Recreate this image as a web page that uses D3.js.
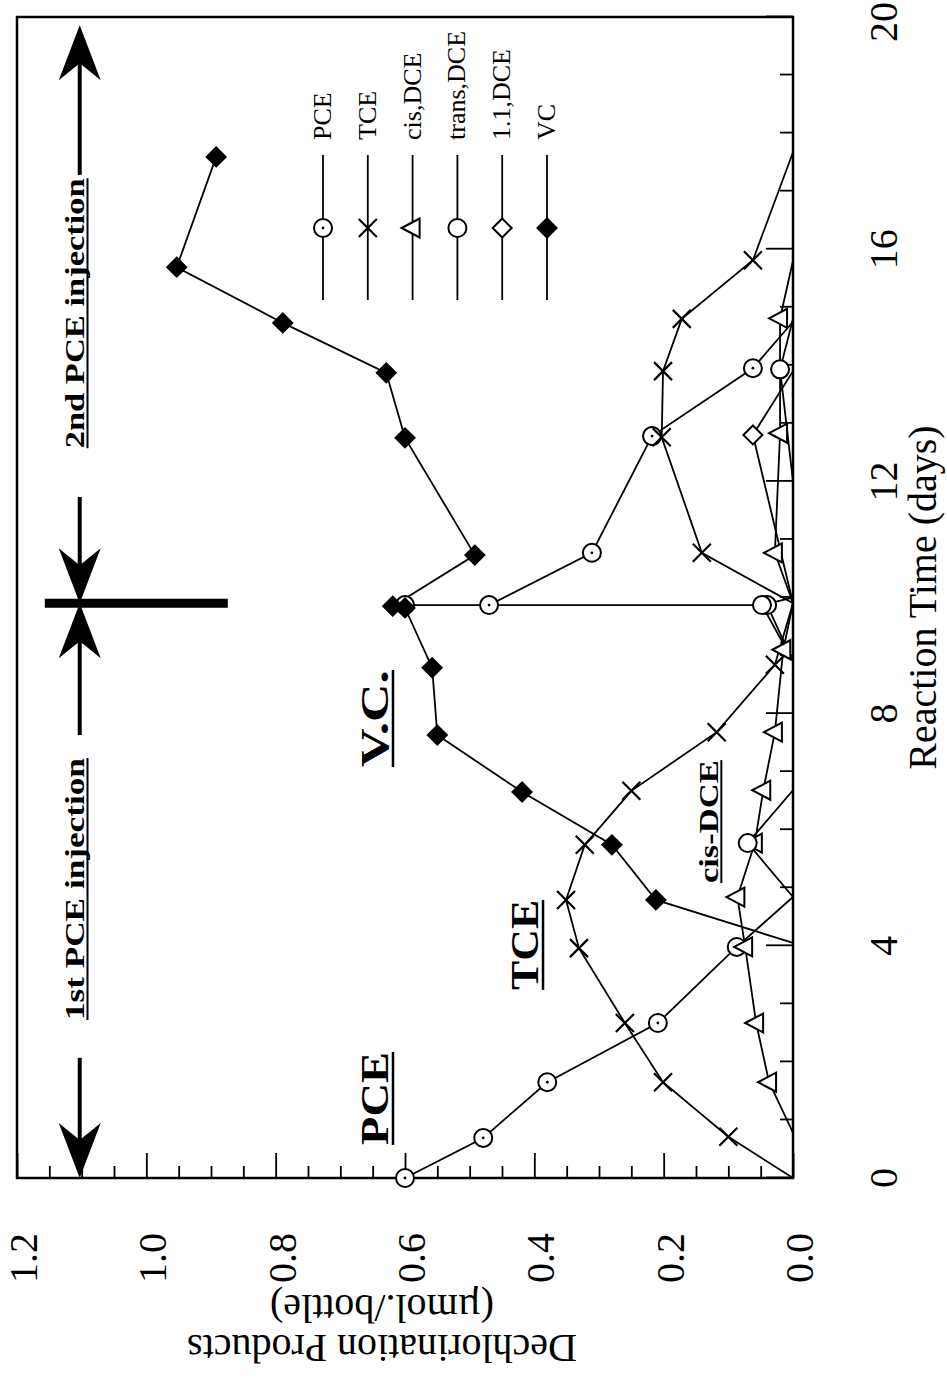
<!DOCTYPE html>
<html>
<head>
<meta charset="utf-8">
<script src="https://cdn.jsdelivr.net/npm/d3@7"></script>
<style>
  body { margin: 0; background: #fff; }
  svg { display: block; }
  text { font-family: "Liberation Serif", "Times New Roman", serif; fill: #000; }
</style>
</head>
<body>
<svg id="chart"></svg>
<script>
// [day, umol/bottle]
var pceData = [[0, 0.6], [0.69, 0.479], [1.65, 0.38], [2.67, 0.209], [3.98, 0.087], [4.84, 0],
  [8.9, 0], [9.87, 0.04], [9.87, 0.6], [9.87, 0.47], [10.77, 0.311], [12.78, 0.218], [13.95, 0.062], [14.75, 0]]
var tceData = [[0, 0], [0.71, 0.1], [1.65, 0.201], [2.67, 0.26], [3.96, 0.331], [4.79, 0.351], [5.74, 0.322],
  [6.67, 0.25], [7.68, 0.118], [8.84, 0.028], [9.9, 0], [10.77, 0.141], [12.76, 0.203], [13.9, 0.201],
  [14.8, 0.172], [15.81, 0.062], [17.67, 0]]
var cisData = [[0, 0], [0.78, 0], [1.65, 0.037], [2.67, 0.057], [3.98, 0.074], [4.84, 0.086], [5.77, 0.059],
  [6.68, 0.046], [7.68, 0.028], [9.1, 0.015], [9.9, 0], [10.77, 0.028], [12.83, 0.02], [14.81, 0.02], [15.8, 0]]
var transData = [[4.84, 0], [5.77, 0.07], [6.68, 0], [8.9, 0], [9.87, 0.048], [10.0, 0], [12.0, 0],
  [13.93, 0.02], [14.8, 0]]
var dce11Data = [[9.9, 0], [12.8, 0.062], [13.9, 0]]
var vcData = [[4.05, 0], [4.79, 0.212], [5.74, 0.28], [6.65, 0.419], [7.63, 0.55], [8.79, 0.558], [9.82, 0.6],
  [9.85, 0.619], [10.73, 0.492], [12.75, 0.6], [13.87, 0.629], [14.73, 0.789], [15.69, 0.953], [17.59, 0.892]]

var seriesNames = ['PCE', 'TCE', 'cis,DCE', 'trans,DCE', '1.1,DCE', 'VC']
var seriesSymbols = ['dotCircle', 'cross', 'triangle', 'circle', 'diamond', 'filledDiamond']
var seriesData = [pceData, tceData, cisData, transData, dce11Data, vcData]

var timeTicks = [0, 4, 8, 12, 16, 20]
var concTicks = [0, 0.2, 0.4, 0.6, 0.8, 1.0, 1.2]

var series = seriesNames.map((name, i) => ({name, symbol: seriesSymbols[i], data: seriesData[i]}))

var width = 1161, height = 776
var svg = d3.select('#chart').attr('width', 947).attr('height', 1384)
// whole figure is printed turned a quarter turn counter-clockwise
var g = svg.append('g').attr('transform', 'translate(17,1178) rotate(-90)')

var x = d3.scaleLinear().domain([0, 20]).range([0, width])
var y = d3.scaleLinear().domain([0, 1.2]).range([height, 0])

// inward ticks
function tickAxis(axis, vals, size){
  var a = g.append('g').call(axis.tickValues(vals).tickSize(size).tickFormat(''))
  a.select('.domain').remove()
  a.selectAll('line').attr('stroke', '#000').attr('stroke-width', 1.8)
  return a
}
tickAxis(d3.axisTop(x), d3.range(21).filter(d => d % 4), 13).attr('transform', `translate(0,${height})`)
tickAxis(d3.axisTop(x), d3.range(0, 21, 4), 27).attr('transform', `translate(0,${height})`)
tickAxis(d3.axisRight(y), d3.range(25).filter(i => i % 4).map(i => i * 0.05), 12)
tickAxis(d3.axisRight(y), concTicks, 25)

g.append('rect').attr('width', width).attr('height', height)
  .attr('fill', 'none').attr('stroke', '#000').attr('stroke-width', 2.5)

// last label sits right at the page edge, keep it just inside
g.selectAll('.tlab').data(timeTicks).join('text')
  .attr('x', d => Math.min(x(d), width - 5)).attr('y', 880).attr('text-anchor', 'middle')
  .style('font-size', '40px').text(d => d)

g.selectAll('.clab').data(concTicks).join('text')
  .attr('x', -55).attr('y', d => y(d) + 20).attr('text-anchor', 'end')
  .style('font-size', '40px').text(d3.format('.1f'))

g.append('text').attr('x', x(10)).attr('y', 919).attr('text-anchor', 'middle')
  .style('font-size', '40px').text('Reaction Time (days)')

g.append('text').attr('transform', 'translate(-157,365) rotate(-90)').attr('text-anchor', 'middle')
  .style('font-size', '40px').text('Dechlorination Products')
g.append('text').attr('transform', 'translate(-117,365) rotate(-90)').attr('text-anchor', 'middle')
  .style('font-size', '40px').text('(\u00b5mol./bottle)')

// underlined bold labels
function label(txt, day, conc, size, len){
  var bx = x(day), by = y(conc)
  g.append('text').attr('x', bx).attr('y', by)
    .attr('textLength', len).attr('lengthAdjust', 'spacingAndGlyphs')
    .style('font-size', size + 'px').style('font-weight', 'bold').text(txt)
  g.append('line').attr('x1', bx).attr('x2', bx + len).attr('y1', by + size * 0.12).attr('y2', by + size * 0.12)
    .attr('stroke', '#000').attr('stroke-width', size > 30 ? 2.5 : 2)
}
label('PCE', 0.57, 0.626, 40, 93)
label('TCE', 3.24, 0.394, 40, 90)
label('V.C.', 7.08, 0.626, 40, 97)
label('cis-DCE', 5.08, 0.116, 28, 123)

// injection arrows
var ay = y(1.103)
function arrowHead(tip, dir){
  var b = tip - dir * 55, n = tip - dir * 38
  return `M${tip},${ay}L${b},${ay - 21}L${n},${ay}L${b},${ay + 21}Z`
}
function shaft(a, b){
  g.append('line').attr('x1', a).attr('x2', b).attr('y1', ay).attr('y2', ay)
    .attr('stroke', '#000').attr('stroke-width', 4)
}
var t0 = x(0), t10 = x(9.9), t20 = x(19.86)
shaft(t0 + 30, x(2.07)); shaft(x(7.63), t10 - 30)
shaft(t10 + 30, x(11.73)); shaft(x(17.28), t20 - 30)
g.append('path').attr('d', arrowHead(t0, -1))
g.append('path').attr('d', arrowHead(t10, 1))
g.append('path').attr('d', arrowHead(t10, -1))
g.append('path').attr('d', arrowHead(t20, 1))
g.append('line').attr('x1', t10).attr('x2', t10).attr('y1', y(1.157)).attr('y2', y(0.874))
  .attr('stroke', '#000').attr('stroke-width', 9)

label('1st  PCE  injection', 2.72, 1.096, 27, 262)
label('2nd  PCE  injection', 12.57, 1.096, 27, 270)

// data
var line = d3.line().x(d => x(d[0])).y(d => y(d[1]))
g.append('g').selectAll('path').data(series).join('path')
  .attr('d', d => line(d.data)).attr('fill', 'none')
  .attr('stroke', '#000').attr('stroke-width', 1.8)

function drawSymbol(sel, type){
  if (type == 'dotCircle' || type == 'circle'){
    sel.append('circle').attr('r', 9).attr('fill', '#fff').attr('stroke', '#000').attr('stroke-width', 2)
    if (type == 'dotCircle') sel.append('circle').attr('r', 1.4).attr('fill', '#000')
  } else if (type == 'cross'){
    sel.append('path').attr('d', 'M-9,-9L9,9M-9,9L9,-9').attr('stroke', '#000').attr('stroke-width', 2.2)
  } else if (type == 'triangle'){
    sel.append('path').attr('d', 'M0,-11L9.5,7L-9.5,7Z').attr('fill', '#fff').attr('stroke', '#000').attr('stroke-width', 2)
  } else {
    sel.append('path').attr('d', 'M0,-9.5L9.5,0L0,9.5L-9.5,0Z')
      .attr('fill', type == 'filledDiamond' ? '#000' : '#fff').attr('stroke', '#000').attr('stroke-width', 2)
  }
}

series.forEach(s => {
  g.append('g').selectAll('g').data(s.data.filter(d => d[1] > 0)).join('g')
    .attr('transform', d => `translate(${x(d[0])},${y(d[1])})`)
    .each(function(){ drawSymbol(d3.select(this), s.symbol) })
})

// legend
var legend = g.append('g').selectAll('g').data(series).join('g')
  .attr('transform', (d, i) => `translate(0,${306 + i * 44.8})`)
legend.append('line').attr('x1', 878).attr('x2', 1023).attr('stroke', '#000').attr('stroke-width', 1.8)
legend.append('g').attr('transform', 'translate(950,0)').each(function(d){ drawSymbol(d3.select(this), d.symbol) })
legend.append('text').attr('x', 1038).attr('y', 8).style('font-size', '26px').text(d => d.name)
</script>
</body>
</html>
